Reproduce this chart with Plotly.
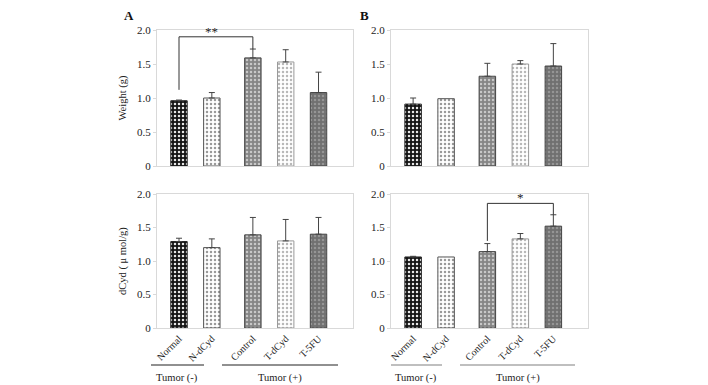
import plotly.graph_objects as go

categories = ["Normal", "N-dCyd", "Control", "T-dCyd", "T-5FU"]
positions = [0, 1, 2.25, 3.25, 4.25]

weight_A = [0.96, 1.00, 1.59, 1.53, 1.08]
weight_A_top = [0.97, 1.08, 1.72, 1.71, 1.38]
weight_B = [0.91, 0.99, 1.32, 1.50, 1.47]
weight_B_top = [1.00, 0.99, 1.51, 1.55, 1.80]
dcyd_A = [1.29, 1.20, 1.39, 1.30, 1.40]
dcyd_A_top = [1.34, 1.33, 1.65, 1.62, 1.65]
dcyd_B = [1.06, 1.06, 1.14, 1.33, 1.52]
dcyd_B_top = [1.07, 1.06, 1.26, 1.41, 1.69]

ytick_vals = [0, 0.5, 1.0, 1.5, 2.0]
ytick_text = ["0", "0.5", "1.0", "1.5", "2.0"]

bg_colors = ["#141414", "#ffffff", "#858585", "#ffffff", "#707070"]
fg_colors = ["#e8e8e8", "#9a9a9a", "#c8c8c8", "#b8b8b8", "#959595"]
outline = ["#222222", "#555555", "#444444", "#999999", "#444444"]

SERIF = "Liberation Serif"
W, H = 708, 385

def px_x(p):
    return p / W

def px_y(p):
    return 1 - p / H

fig = go.Figure()

panels = [
    (weight_A, weight_A_top, "x", "y"),
    (weight_B, weight_B_top, "x2", "y2"),
    (dcyd_A, dcyd_A_top, "x3", "y3"),
    (dcyd_B, dcyd_B_top, "x4", "y4"),
]

for vals, tops, xa, ya in panels:
    for i, cat in enumerate(categories):
        fig.add_trace(go.Bar(
            x=[positions[i]], y=[vals[i]], width=0.5,
            xaxis=xa, yaxis=ya, showlegend=False, name=cat,
            marker=dict(
                color=bg_colors[i],
                line=dict(color=outline[i], width=1),
                pattern=dict(shape=".", bgcolor=bg_colors[i], fgcolor=fg_colors[i],
                             size=4, solidity=0.3, fillmode="replace"),
            ),
            error_y=dict(type="data", symmetric=False,
                         array=[max(tops[i] - vals[i], 0)], arrayminus=[0],
                         color="#444444", thickness=1, width=3,
                         visible=(tops[i] - vals[i]) > 0.001),
        ))

xdomA = [px_x(157), px_x(353)]
xdomB = [px_x(391), px_x(588)]
ydomTop = [px_y(166), px_y(30)]
ydomBot = [px_y(328), px_y(194)]

xr = [-0.67, 5.3]
axis_common = dict(showline=True, mirror=True, linecolor="#d9d9d9", linewidth=1,
                   showgrid=False, zeroline=False, automargin=False)

def xaxis(dom, anchor, labels):
    return dict(domain=dom, anchor=anchor, range=xr, tickvals=positions,
                ticktext=categories, showticklabels=labels, tickangle=-45,
                ticks="", tickfont=dict(family=SERIF, size=10, color="#222"),
                **axis_common)

def yaxis(dom, anchor, title):
    return dict(domain=dom, anchor=anchor, range=[0, 2.0], tickvals=ytick_vals,
                ticktext=ytick_text, ticks="outside", ticklen=3, tickcolor="#d9d9d9",
                tickfont=dict(family=SERIF, size=11, color="#222"),
                title=dict(text=title, font=dict(family=SERIF, size=10.5, color="#222"),
                           standoff=8),
                **axis_common)

fig.update_layout(
    width=W, height=H, margin=dict(l=0, r=0, t=0, b=0, autoexpand=False),
    paper_bgcolor="white", plot_bgcolor="white", barmode="overlay",
    xaxis=xaxis(xdomA, "y", False),
    yaxis=yaxis(ydomTop, "x", "Weight (g)"),
    xaxis2=xaxis(xdomB, "y2", False),
    yaxis2=yaxis(ydomTop, "x2", ""),
    xaxis3=xaxis(xdomA, "y3", True),
    yaxis3=yaxis(ydomBot, "x3", "dCyd ( μ mol/g)"),
    xaxis4=xaxis(xdomB, "y4", True),
    yaxis4=yaxis(ydomBot, "x4", ""),
)

br = dict(color="#333333", width=1)
# significance bracket, panel A top
fig.add_shape(type="path", xref="x", yref="y",
              path=f"M {positions[0]},1.12 L {positions[0]},1.90 L {positions[2]},1.90 L {positions[2]},{weight_A_top[2]}",
              line=br)
fig.add_annotation(x=1.0, y=1.90, xref="x", yref="y", text="**", showarrow=False,
                   xanchor="center", yanchor="bottom", yshift=-4,
                   font=dict(family=SERIF, size=13, color="#222"))
# significance bracket, panel B bottom
fig.add_shape(type="path", xref="x4", yref="y4",
              path=f"M {positions[2]},1.30 L {positions[2]},1.86 L {positions[4]},1.86 L {positions[4]},{dcyd_B_top[4]}",
              line=br)
fig.add_annotation(x=positions[3], y=1.86, xref="x4", yref="y4", text="*", showarrow=False,
                   xanchor="center", yanchor="bottom", yshift=-4,
                   font=dict(family=SERIF, size=13, color="#222"))

# panel letters
for letter, lx in (("A", 129), ("B", 364)):
    fig.add_annotation(x=px_x(lx), y=px_y(15), xref="paper", yref="paper",
                       text=f"<b>{letter}</b>", showarrow=False,
                       xanchor="center", yanchor="middle",
                       font=dict(family=SERIF, size=13, color="#111"))

# group lines and labels
groups = [
    (151, 204, 222, 338, "#222222"),
    (391, 442, 460, 575, "#808080"),
]
ly = px_y(365)
for a0, a1, b0, b1, col in groups:
    fig.add_shape(type="line", xref="paper", yref="paper", x0=px_x(a0), x1=px_x(a1),
                  y0=ly, y1=ly, line=dict(color=col, width=1.2))
    fig.add_shape(type="line", xref="paper", yref="paper", x0=px_x(b0), x1=px_x(b1),
                  y0=ly, y1=ly, line=dict(color=col, width=1.2))
    fig.add_annotation(x=px_x((a0 + a1) / 2), y=px_y(378), xref="paper", yref="paper",
                       text="Tumor (-)", showarrow=False, xanchor="center", yanchor="middle",
                       font=dict(family=SERIF, size=10.5, color="#222"))
    fig.add_annotation(x=px_x((b0 + b1) / 2), y=px_y(378), xref="paper", yref="paper",
                       text="Tumor (+)", showarrow=False, xanchor="center", yanchor="middle",
                       font=dict(family=SERIF, size=10.5, color="#222"))

fig.write_html("out.html", config={"displayModeBar": False},
               post_script="document.body.style.margin='0';document.body.style.overflow='hidden';")
